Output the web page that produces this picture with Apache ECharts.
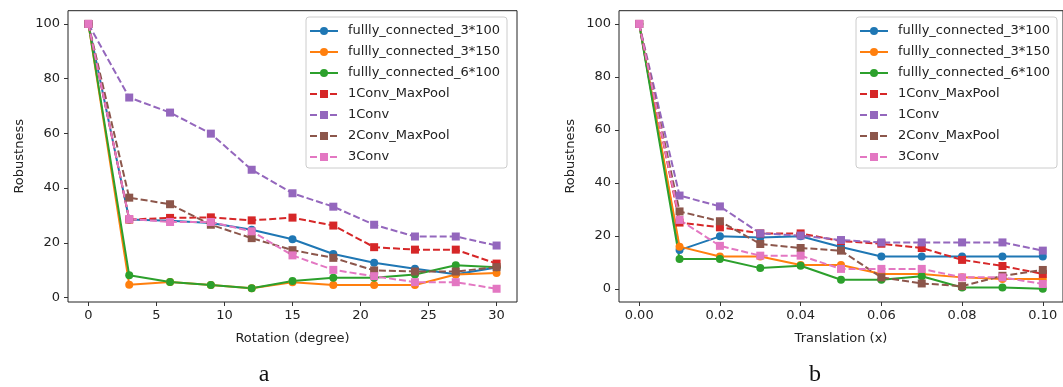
<!DOCTYPE html>
<html><head><meta charset="utf-8">
<script src="https://cdn.jsdelivr.net/npm/echarts@6/dist/echarts.min.js"></script>
<style>html,body{margin:0;padding:0;background:#fff}#c{width:1063px;height:387px}</style>
</head><body><div id="c"></div>
<script>
const seriesNames = ["fullly_connected_3*100","fullly_connected_3*150","fullly_connected_6*100","1Conv_MaxPool","1Conv","2Conv_MaxPool","3Conv"];
const rotation = [0,3,6,9,12,15,18,21,24,27,30];
const fc3_100_rot = [100,28.5,28.1,27.2,24.8,21.3,15.9,12.7,10.5,8.5,11.0];
const fc3_150_rot = [100,4.7,5.7,4.6,3.4,5.6,4.6,4.6,4.6,8.4,9.0];
const fc6_100_rot = [100,8.1,5.7,4.6,3.4,6.0,7.2,7.2,8.4,11.8,11.1];
const conv1mp_rot = [100,28.5,29.1,29.3,28.2,29.2,26.3,18.4,17.5,17.5,12.4];
const conv1_rot   = [100,73.1,67.6,59.9,46.7,38.1,33.2,26.6,22.3,22.3,19.0];
const conv2mp_rot = [100,36.5,34.1,26.6,21.7,17.3,14.5,9.9,9.5,9.5,11.1];
const conv3_rot   = [100,28.7,27.6,27.6,24.2,15.4,10.1,7.8,5.6,5.6,3.2];

const translation = [0,0.01,0.02,0.03,0.04,0.05,0.06,0.07,0.08,0.09,0.10];
const fc3_100_tr = [100,14.6,19.8,19.4,19.8,15.8,12.2,12.2,12.2,12.2,12.2];
const fc3_150_tr = [100,15.9,12.2,12.2,9.0,9.0,5.6,5.6,4.3,3.7,3.7];
const fc6_100_tr = [100,11.2,11.2,7.8,8.7,3.4,3.4,4.7,0.5,0.5,0.0];
const conv1mp_tr = [100,25.0,23.2,20.9,20.9,18.0,17.0,15.4,10.9,8.6,5.6];
const conv1_tr   = [100,35.2,31.1,20.9,20.1,18.4,17.5,17.5,17.5,17.5,14.4];
const conv2mp_tr = [100,29.2,25.5,16.9,15.4,14.4,4.3,2.0,1.0,4.9,7.1];
const conv3_tr   = [100,26.0,16.2,12.5,12.5,7.5,7.5,7.5,4.3,4.3,1.8];

const rotTicks = [0,5,10,15,20,25,30];
const trTicks = [0,0.02,0.04,0.06,0.08,0.10];
const yTicks = [0,20,40,60,80,100];

const rotData = [fc3_100_rot,fc3_150_rot,fc6_100_rot,conv1mp_rot,conv1_rot,conv2mp_rot,conv3_rot];
const trData = [fc3_100_tr,fc3_150_tr,fc6_100_tr,conv1mp_tr,conv1_tr,conv2mp_tr,conv3_tr];
const colors = ['#1f77b4','#ff7f0e','#2ca02c','#d62728','#9467bd','#8c564b','#e377c2'];
const dashed = [false,false,false,true,true,true,true];

const FONT = 'DejaVu Sans';
const txt = {fontFamily: FONT, fontSize: 13, color: '#222'};

function mkSeries(xs, arrs, gi) {
  return arrs.map((a, i) => ({
    name: seriesNames[i], type: 'line', xAxisIndex: gi, yAxisIndex: gi,
    data: xs.map((x, j) => [x, a[j]]),
    symbol: dashed[i] ? 'rect' : 'circle', symbolSize: 8,
    showSymbol: true, animation: false,
    itemStyle: {color: colors[i]},
    lineStyle: {color: colors[i], width: 2, type: dashed[i] ? [7, 3] : 'solid'},
    emphasis: {disabled: true}
  }));
}

function xAxis(gi, min, max, ticks, fmt, name) {
  return {
    type: 'value', gridIndex: gi, min: min, max: max, position: 'bottom',
    name: name, nameLocation: 'middle', nameGap: 30, nameTextStyle: txt,
    axisLine: {show: false, onZero: false}, splitLine: {show: false},
    axisTick: {show: true, length: 4, customValues: ticks, lineStyle: {color: '#333'}},
    axisLabel: Object.assign({customValues: ticks, margin: 7, formatter: fmt}, txt)
  };
}
function yAxis(gi, min, max, gap) {
  return {
    type: 'value', gridIndex: gi, min: min, max: max, position: 'left',
    name: 'Robustness', nameLocation: 'middle', nameGap: gap, nameTextStyle: txt,
    axisLine: {show: false, onZero: false}, splitLine: {show: false},
    axisTick: {show: true, length: 4, customValues: yTicks, lineStyle: {color: '#333'}},
    axisLabel: Object.assign({customValues: yTicks, margin: 8}, txt)
  };
}
function legend(left) {
  return {
    data: seriesNames, left: left, top: 17, orient: 'vertical',
    itemWidth: 28, itemHeight: 10, itemGap: 7,
    padding: [7, 7, 4, 3],
    borderColor: '#cccccc', borderWidth: 1, borderRadius: 3,
    backgroundColor: 'rgba(255,255,255,0.8)',
    textStyle: {fontFamily: FONT, fontSize: 13, color: '#222', lineHeight: 14, padding: [0, 0, 0, 5]},
    selectedMode: false
  };
}

const chart = echarts.init(document.getElementById('c'), null, {renderer: 'canvas'});
chart.setOption({
  animation: false,
  grid: [
    {left: 68, top: 10.7, width: 449, height: 291.3, show: true, borderColor: '#222', borderWidth: 1, backgroundColor: 'transparent'},
    {left: 619, top: 10.7, width: 447, height: 291.3, show: true, borderColor: '#222', borderWidth: 1, backgroundColor: 'transparent'}
  ],
  xAxis: [
    xAxis(0, -1.5, 31.5, rotTicks, v => String(v), 'Rotation (degree)'),
    xAxis(1, -0.005, 0.105, trTicks, v => v.toFixed(2), 'Translation (x)')
  ],
  yAxis: [
    yAxis(0, -1.64, 104.84, 42),
    yAxis(1, -5, 105, 42)
  ],
  legend: [legend(306), legend(856)],
  series: mkSeries(rotation, rotData, 0).concat(mkSeries(translation, trData, 1)),
  graphic: [
    {type: 'text', x: 264, y: 375, style: {text: 'a', font: '24px "Liberation Serif"', fill: '#111', align: 'center', verticalAlign: 'middle'}},
    {type: 'text', x: 815, y: 375, style: {text: 'b', font: '24px "Liberation Serif"', fill: '#111', align: 'center', verticalAlign: 'middle'}}
  ]
});
</script></body></html>
